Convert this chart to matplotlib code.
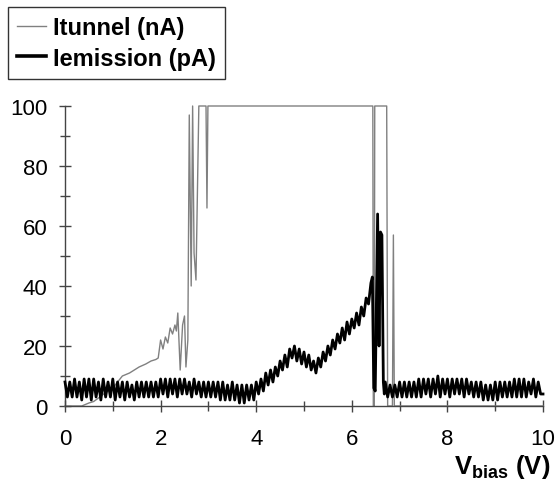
import numpy as np
import matplotlib
matplotlib.use('Agg')
import matplotlib.pyplot as plt

plt.rcParams['font.family'] = ['Liberation Sans', 'DejaVu Sans']
plt.rcParams['mathtext.fontset'] = 'custom'
plt.rcParams['mathtext.rm'] = 'Liberation Sans:bold'
plt.rcParams['mathtext.bf'] = 'Liberation Sans:bold'

# tunnel current (nA)
tunnel_v = [0.0, 0.35, 0.5, 0.6, 0.73, 0.85, 1.0, 1.1, 1.2, 1.35, 1.45, 1.55,
            1.69, 1.8, 1.9, 1.95, 2.0, 2.05, 2.1, 2.15, 2.2, 2.25, 2.3, 2.33,
            2.36, 2.41, 2.46, 2.50, 2.53, 2.57, 2.60, 2.64, 2.67, 2.70, 2.74,
            2.80, 2.95, 2.97, 2.99, 6.44, 6.45, 6.47, 6.48, 6.73, 6.75, 6.85,
            6.87, 6.89, 10.0]
tunnel_i = [0, 0, 1, 1.5, 3, 4.5, 6, 8, 10, 11, 12, 13,
            14, 15, 15.5, 16, 22, 19, 23, 21, 26, 24, 27, 25,
            31, 12, 27, 30, 13, 22, 97, 40, 100, 51, 42,
            100, 100, 66, 100, 100, 0, 0, 100, 100, 0, 0,
            57, 0, 0]

# emission current (pA): 0 - 6.40 V, one value every 0.05 V
emis_i_a = [8, 3, 8, 3, 9, 3, 8, 2, 9, 3, 9, 2, 9, 3, 8, 2, 9, 3, 8, 3, 9,
            2, 8, 3, 8, 2, 8, 3, 7, 2, 8, 3, 8, 3, 8, 3, 8, 3, 8, 3, 9,
            4, 9, 3, 9, 4, 9, 3, 9, 4, 9, 4, 8, 3, 9, 4, 8, 3, 8, 3, 8,
            3, 8, 3, 8, 2, 8, 2, 7, 2, 8, 2, 7, 1, 7, 1, 7, 2, 7, 2, 8,
            4, 9, 5, 11, 7, 12, 8, 13, 10, 15, 12, 17, 13, 19, 16, 20, 15, 19, 14, 18,
            13, 17, 12, 15, 11, 16, 13, 18, 15, 20, 17, 22, 19, 24, 21, 26, 22, 28, 24, 29,
            26, 31, 27, 33, 30, 36, 34, 41]
emis_v_a = np.arange(len(emis_i_a)) * 0.05

# spike region
emis_v_b = [6.43, 6.46, 6.49, 6.52, 6.54, 6.57, 6.60, 6.63, 6.66, 6.68]
emis_i_b = [43, 6, 5, 40, 64, 20, 58, 57, 8, 4]

# tail 6.70 - 10 V, every 0.05 V
emis_i_c = [8, 3, 7, 3, 7, 3, 8,
            3, 8, 3, 8, 3, 8, 3, 9, 3, 9,
            4, 9, 3, 9, 4, 10, 3, 9, 4, 9,
            3, 9, 4, 9, 4, 9, 3, 9, 4, 8,
            3, 8, 3, 8, 2, 7, 2, 7, 2, 8,
            2, 8, 3, 8, 3, 8, 3, 9, 3, 9,
            3, 9, 3, 8, 4, 9, 3, 8, 4, 4]
emis_v_c = 6.70 + np.arange(len(emis_i_c)) * 0.05

emis_v = np.concatenate([emis_v_a, emis_v_b, emis_v_c])
emis_i = np.concatenate([emis_i_a, emis_i_b, emis_i_c])

fig = plt.figure(figsize=(5.57, 4.81), dpi=100)
ax = fig.add_axes([65 / 557, 74 / 481, 478 / 557, 300 / 481])

ax.plot(tunnel_v, tunnel_i, color='#808080', lw=1.0, label='Itunnel (nA)',
        clip_on=False, zorder=2)
ax.plot(emis_v, emis_i, color='black', lw=2.0, label='Iemission (pA)',
        clip_on=False, zorder=3)

ax.set_xlim(0, 10)
ax.set_ylim(0, 100)
for s in ['top', 'right']:
    ax.spines[s].set_visible(False)
for s in ['left', 'bottom']:
    ax.spines[s].set_color('#444444')
    ax.spines[s].set_linewidth(1.0)

ax.set_xticks([0, 2, 4, 6, 8, 10])
ax.set_xticks([1, 3, 5, 7, 9], minor=True)
ax.set_yticks([0, 20, 40, 60, 80, 100])
ax.set_yticks([10, 30, 50, 70, 90], minor=True)
ax.tick_params(which='both', direction='inout', color='#444444', width=1.0)
ax.tick_params(which='major', length=9, labelsize=16)
ax.tick_params(which='minor', length=7)
ax.tick_params(axis='x', which='major', pad=11)
ax.tick_params(axis='y', which='major', pad=8)

ax.text(1.015, -0.2, r'$\mathregular{V_{bias}}$ (V)', transform=ax.transAxes,
        ha='right', va='center', fontsize=18.5, fontweight='bold')

leg = fig.legend(loc='upper left', bbox_to_anchor=(8 / 557, 1 - 8 / 481),
                 prop={'weight': 'bold', 'size': 17}, fancybox=False,
                 edgecolor='#333333', framealpha=1, handlelength=1.2,
                 handletextpad=0.3, borderpad=0.4, labelspacing=0.3,
                 borderaxespad=0)
leg.get_frame().set_linewidth(1.0)
leg.get_lines()[1].set_linewidth(2.6)

fig.savefig('out.png', dpi=100)
